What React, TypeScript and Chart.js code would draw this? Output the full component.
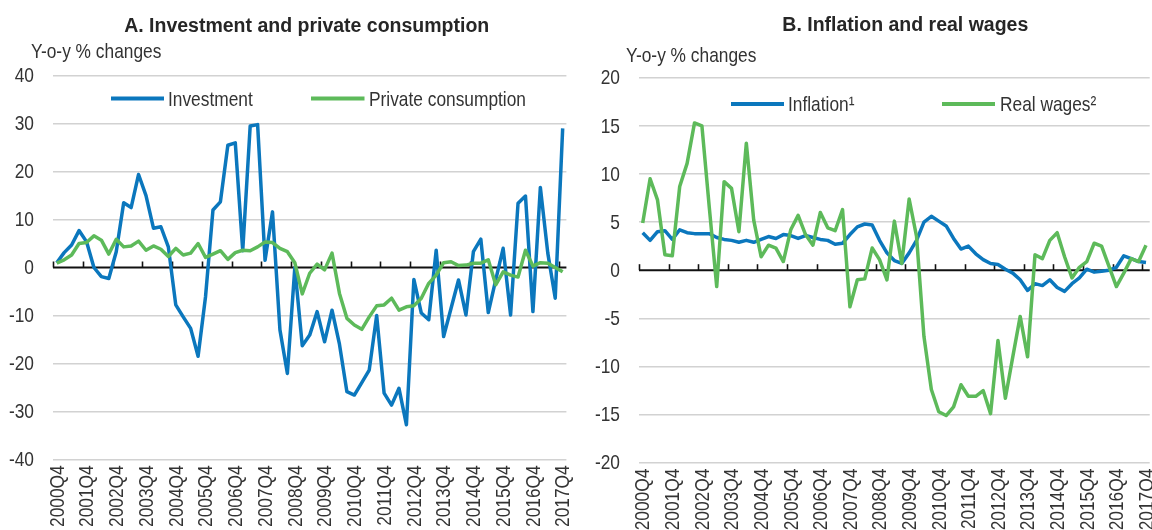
import React, { useEffect, useRef } from 'react';
import { Chart, registerables } from 'chart.js';

Chart.register(...registerables);

// ---------- DATA ----------
const years: number[] = [2000, 2001, 2002, 2003, 2004, 2005, 2006, 2007, 2008, 2009, 2010, 2011, 2012, 2013, 2014, 2015, 2016, 2017];
const quarterNames: string[] = ['Q1', 'Q2', 'Q3', 'Q4'];
// quarterly categories 2000Q4 .. 2017Q4
const categories: string[] = years.flatMap((y) => quarterNames.map((q) => `${y}${q}`)).filter((c) => c >= '2000Q4');

const investment: number[] = [
  1.0, 3.1, 4.7, 7.7, 5.4, 0.0, -1.9, -2.3, 3.3, 13.5,
  12.5, 19.4, 15.0, 8.2, 8.5, 4.3, -7.8, -10.3, -12.7, -18.5,
  -6.1, 12.0, 13.7, 25.5, 26.0, 3.5, 29.5, 29.8, 1.5, 11.6,
  -13.0, -22.1, 0.0, -16.3, -14.1, -9.2, -15.5, -8.9, -16.0, -25.9,
  -26.6, -24.0, -21.4, -10.0, -26.2, -28.7, -25.2, -32.8, -2.5, -9.5,
  -10.9, 3.6, -14.4, -8.5, -2.6, -9.9, 3.3, 5.9, -9.4, -2.6,
  4.0, -9.9, 13.4, 14.9, -9.2, 16.7, 3.0, -6.4, 29.0,
];

const privateConsumption: number[] = [
  0.9, 1.6, 2.6, 5.0, 5.2, 6.6, 5.7, 2.8, 5.9, 4.3,
  4.5, 5.5, 3.6, 4.5, 3.8, 2.3, 4.0, 2.6, 3.0, 5.0,
  2.1, 2.8, 3.5, 1.7, 3.1, 3.6, 3.5, 4.3, 5.3, 5.2,
  4.0, 3.3, 1.0, -5.5, -1.2, 0.7, -0.5, 3.0, -5.4, -10.6,
  -12.0, -12.9, -10.3, -8.0, -7.8, -6.4, -8.9, -8.2, -8.0, -6.4,
  -3.3, -1.6, 1.0, 1.2, 0.4, 0.5, 0.9, 0.9, 1.6, -3.6,
  -0.9, -1.6, -2.0, 3.6, 0.3, 1.0, 0.9, 0.0, -0.9,
];

const inflation: number[] = [
  3.9, 3.1, 4.0, 4.1, 3.2, 4.2, 3.9, 3.8, 3.8, 3.8,
  3.4, 3.2, 3.1, 2.9, 3.1, 2.9, 3.2, 3.5, 3.3, 3.7,
  3.6, 3.3, 3.6, 3.4, 3.2, 3.1, 2.7, 2.8, 3.7, 4.5,
  4.8, 4.7, 3.1, 1.8, 1.0, 0.7, 1.8, 3.1, 5.0, 5.6,
  5.1, 4.6, 3.3, 2.2, 2.5, 1.7, 1.1, 0.7, 0.6, 0.1,
  -0.3, -1.0, -2.1, -1.4, -1.6, -1.0, -1.8, -2.2, -1.4, -0.8,
  0.1, -0.2, -0.1, 0.0, 0.3, 1.5, 1.2, 0.9, 0.8,
];

const realWages: number[] = [
  4.9, 9.5, 7.3, 1.6, 1.5, 8.7, 11.1, 15.3, 15.0, 6.5,
  -1.7, 9.2, 8.5, 4.0, 13.2, 5.2, 1.4, 2.6, 2.3, 0.9,
  4.2, 5.7, 3.7, 2.6, 6.0, 4.4, 4.1, 6.3, -3.8, -1.0,
  -0.9, 2.3, 1.1, -1.0, 5.1, 0.7, 7.4, 3.5, -6.9, -12.4,
  -14.7, -15.1, -14.2, -11.9, -13.1, -13.1, -12.5, -14.9, -7.3, -13.3,
  -9.0, -4.8, -9.0, 1.6, 1.2, 3.1, 3.9, 1.4, -0.8, 0.3,
  0.9, 2.8, 2.5, 0.4, -1.7, -0.3, 1.2, 0.9, 2.6,
];

const tickLabels: string[] = [
  '2000Q4', '2001Q4', '2002Q4', '2003Q4', '2004Q4', '2005Q4', '2006Q4', '2007Q4', '2008Q4',
  '2009Q4', '2010Q4', '2011Q4', '2012Q4', '2013Q4', '2014Q4', '2015Q4', '2016Q4', '2017Q4',
];

const panelTitles: string[] = ['A. Investment and private consumption', 'B. Inflation and real wages'];
const unitLabel = 'Y-o-y % changes';
const seriesNamesA: string[] = ['Investment', 'Private consumption'];
const seriesNamesB: string[] = ['Inflation\u00B9', 'Real wages\u00B2'];
const yRangeA: number[] = [-40, 40, 10];
const yRangeB: number[] = [-20, 20, 5];

// ---------- STYLE ----------
const BLUE = '#0B77BD';
const GREEN = '#5DBA5A';
const TEXT = '#333333';
const GRID = '#d2d2d2';
const FONT = '"Liberation Sans", Arial, sans-serif';
const LABEL_SIZE = 21;
const NARROW_SCALE = 0.825; // condensed look of the original labels

type Layout = {
  padTop: number;
  padRight: number;
  yWidth: number;
  xHeight: number;
  titleX: number;
  titleY: number;
  unitX: number;
  unitY: number;
  legend: { x1: number; x2: number; tx: number }[];
  legendLineY: number;
  legendTextY: number;
};

function narrowText(ctx: CanvasRenderingContext2D, text: string, x: number, y: number, align: CanvasTextAlign) {
  ctx.save();
  ctx.translate(x, y);
  ctx.scale(NARROW_SCALE, 1);
  ctx.textAlign = align;
  ctx.fillText(text, 0, 0);
  ctx.restore();
}

function makeOverlay(title: string, names: string[], colors: string[], lay: Layout) {
  return {
    id: 'overlay',
    beforeDatasetsDraw(chart: any) {
      const { ctx, chartArea, scales } = chart;
      const xs = scales.x;
      const ys = scales.y;
      const y0 = ys.getPixelForValue(0);
      const step = xs.getPixelForValue(1) - xs.getPixelForValue(0);
      ctx.save();
      ctx.strokeStyle = '#111';
      ctx.lineWidth = 2;
      ctx.beginPath();
      ctx.moveTo(chartArea.left, y0);
      ctx.lineTo(chartArea.right, y0);
      ctx.stroke();
      ctx.lineWidth = 1.6;
      for (let i = 0; i < categories.length; i++) {
        if (!tickLabels.includes(categories[i])) continue;
        const px = Math.round(xs.getPixelForValue(i) - step / 2) + 0.5;
        ctx.beginPath();
        ctx.moveTo(px, y0);
        ctx.lineTo(px, y0 - 6);
        ctx.stroke();
      }
      ctx.restore();
    },
    afterDraw(chart: any) {
      const { ctx, chartArea, scales } = chart;
      const xs = scales.x;
      const ys = scales.y;
      ctx.save();
      // panel title
      ctx.fillStyle = '#262626';
      ctx.font = `bold 19.5px ${FONT}`;
      ctx.textAlign = 'center';
      ctx.textBaseline = 'alphabetic';
      ctx.fillText(title, lay.titleX, lay.titleY);
      // unit label
      ctx.fillStyle = TEXT;
      ctx.font = `${LABEL_SIZE}px ${FONT}`;
      narrowText(ctx, unitLabel, lay.unitX, lay.unitY, 'left');
      // legend
      names.forEach((n, i) => {
        const it = lay.legend[i];
        ctx.strokeStyle = colors[i];
        ctx.lineWidth = 4;
        ctx.beginPath();
        ctx.moveTo(it.x1, lay.legendLineY);
        ctx.lineTo(it.x2, lay.legendLineY);
        ctx.stroke();
        ctx.fillStyle = TEXT;
        narrowText(ctx, n, it.tx, lay.legendTextY, 'left');
      });
      // y tick labels
      ctx.textBaseline = 'middle';
      ys.ticks.forEach((t: any) => {
        const py = ys.getPixelForValue(t.value);
        narrowText(ctx, String(t.value), chartArea.left - 19, py + 1, 'right');
      });
      // x tick labels (rotated)
      for (let i = 0; i < categories.length; i++) {
        if (!tickLabels.includes(categories[i])) continue;
        const px = xs.getPixelForValue(i);
        ctx.save();
        ctx.translate(px + 1, chartArea.bottom + 6);
        ctx.rotate(-Math.PI / 2);
        ctx.scale(NARROW_SCALE, 1);
        ctx.textAlign = 'right';
        ctx.textBaseline = 'middle';
        ctx.fillText(categories[i], 0, 0);
        ctx.restore();
      }
      ctx.restore();
    },
  };
}

function buildChart(
  canvas: HTMLCanvasElement,
  title: string,
  names: string[],
  series: number[][],
  colors: string[],
  yr: number[],
  lay: Layout,
) {
  return new Chart(canvas, {
    type: 'line',
    data: {
      labels: categories,
      datasets: series.map((d, i) => ({
        label: names[i],
        data: d,
        borderColor: colors[i],
        backgroundColor: colors[i],
        borderWidth: 3.5,
        pointRadius: 0,
        tension: 0,
        fill: false,
        order: series.length - i,
        borderJoinStyle: 'round' as const,
      })),
    },
    options: {
      animation: false,
      responsive: false,
      devicePixelRatio: 1,
      layout: { padding: { top: lay.padTop, right: lay.padRight, left: 0, bottom: 0 } },
      plugins: {
        legend: { display: false },
        title: { display: false },
        tooltip: { enabled: false },
      },
      scales: {
        x: {
          type: 'category',
          offset: true,
          grid: { display: false, drawTicks: false, offset: true },
          border: { display: false },
          ticks: { display: false, autoSkip: false },
          afterFit: (s: any) => {
            s.height = lay.xHeight;
            s.paddingLeft = 0;
            s.paddingRight = 0;
          },
        },
        y: {
          min: yr[0],
          max: yr[1],
          grid: {
            drawTicks: false,
            color: (c: any) => (c.tick && c.tick.value === 0 ? 'rgba(0,0,0,0)' : GRID),
            lineWidth: 1.6,
          },
          border: { display: false },
          ticks: { display: false, stepSize: yr[2] },
          afterFit: (s: any) => {
            s.width = lay.yWidth;
            s.paddingTop = 0;
            s.paddingBottom = 0;
          },
        },
      },
    },
    plugins: [makeOverlay(title, names, colors, lay)],
  });
}

const layoutA: Layout = {
  padTop: 75.7,
  padRight: 9.6,
  yWidth: 53,
  xHeight: 70.7,
  titleX: 306.7,
  titleY: 32.3,
  unitX: 31,
  unitY: 58.3,
  legend: [
    { x1: 111, x2: 164, tx: 168 },
    { x1: 311, x2: 364.5, tx: 369 },
  ],
  legendLineY: 98.5,
  legendTextY: 106,
};

const layoutB: Layout = {
  padTop: 77.7,
  padRight: 2.3,
  yWidth: 63,
  xHeight: 67.3,
  titleX: 329.3,
  titleY: 30.7,
  unitX: 50,
  unitY: 61.7,
  legend: [
    { x1: 155, x2: 208, tx: 212 },
    { x1: 366, x2: 419, tx: 424 },
  ],
  legendLineY: 104,
  legendTextY: 111,
};

export default function App() {
  const refA = useRef<HTMLCanvasElement>(null);
  const refB = useRef<HTMLCanvasElement>(null);

  useEffect(() => {
    const a = buildChart(refA.current!, panelTitles[0], seriesNamesA, [investment, privateConsumption], [BLUE, GREEN], yRangeA, layoutA);
    const b = buildChart(refB.current!, panelTitles[1], seriesNamesB, [inflation, realWages], [BLUE, GREEN], yRangeB, layoutB);
    return () => {
      a.destroy();
      b.destroy();
    };
  }, []);

  return (
    <div style={{ position: 'absolute', left: 0, top: 0, width: 1152, height: 530, overflow: 'hidden', background: '#fff' }}>
      <canvas ref={refA} width={576} height={530} style={{ position: 'absolute', left: 0, top: 0, width: 576, height: 530 }} />
      <canvas ref={refB} width={576} height={530} style={{ position: 'absolute', left: 576, top: 0, width: 576, height: 530 }} />
    </div>
  );
}
